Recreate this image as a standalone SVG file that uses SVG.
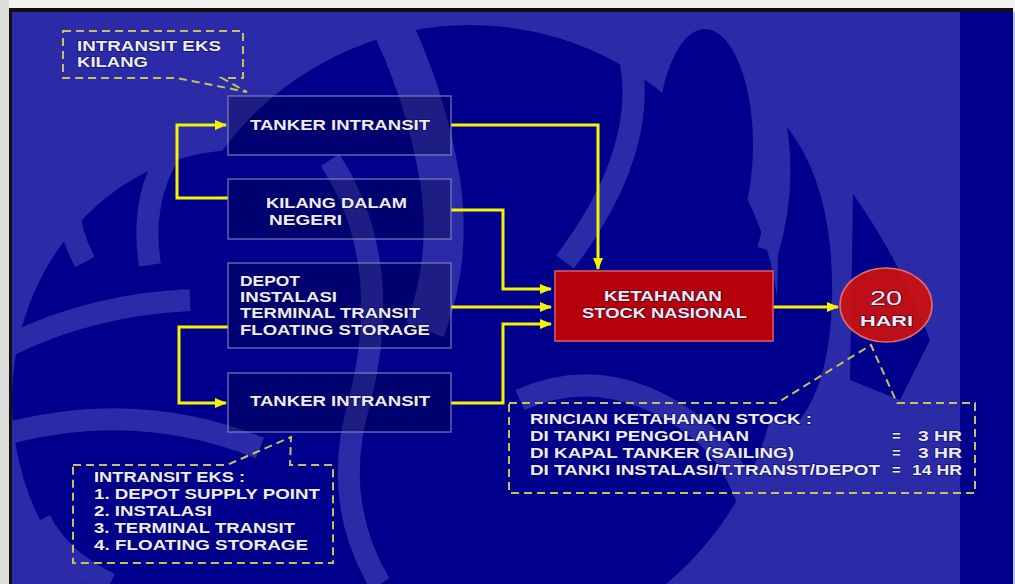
<svg xmlns="http://www.w3.org/2000/svg" width="1015" height="584" viewBox="0 0 1015 584">
<style>
.t{font-family:"Liberation Sans",Arial,sans-serif;font-weight:bold;font-size:15px;fill:#ececf2;stroke:#000035;stroke-width:1.4px;stroke-opacity:0.55;paint-order:stroke}
.box{fill:#000038;fill-opacity:0.32;stroke:#8a8ac4;stroke-opacity:0.7;stroke-width:1.5}
.call{fill:none;stroke:#c4c25a;stroke-width:2;stroke-dasharray:8 5}
.con{fill:none;stroke:#f4f400;stroke-width:3}
.dk{fill:#00008c}
.lb{fill:none;stroke:#2b2ba8;stroke-width:22}
</style>
<defs>
<marker id="ah" markerUnits="userSpaceOnUse" markerWidth="12" markerHeight="10" refX="11" refY="5" orient="auto">
<path d="M0,0 L12,5 L0,10 Z" fill="#f4f400"/>
</marker>
<clipPath id="fr"><rect x="12" y="12" width="1001" height="572"/></clipPath>
</defs>
<g id="frame">
<rect x="0" y="0" width="1015" height="584" fill="#f2f2f2"/>
<rect x="0" y="0" width="9" height="584" fill="#dcdcdc"/>
<rect x="9" y="8" width="1004" height="576" fill="#101010"/>
<rect x="12" y="12" width="1001" height="572" fill="#2b2ba8"/>
<rect x="1013" y="12" width="2" height="572" fill="#c0c0e6"/>
</g>
<g id="watermark" clip-path="url(#fr)">
<ellipse class="dk" cx="470" cy="340" rx="310" ry="315"/>
<ellipse class="dk" cx="240" cy="400" rx="228" ry="250"/>
<ellipse class="dk" cx="705" cy="145" rx="48" ry="116"/>
<path class="dk" d="M770,108 Q835,170 832,300 Q830,380 800,420 L760,420 Q790,300 770,108 Z"/>
<path class="dk" d="M853,194 Q900,260 930,340 L900,400 L850,380 Z"/>
<path class="lb" d="M612,8 Q672,120 565,262"/>
<path class="lb" d="M742,22 Q800,140 768,250"/>
<path class="lb" d="M120,100 Q40,180 85,262"/>
<path class="lb" d="M265,70 Q130,140 150,265"/>
<path class="lb" style="stroke-width:40" d="M385,12 Q425,90 440,180 Q452,260 425,330"/>
<path class="lb" d="M10,345 Q90,305 190,300"/>
<path class="lb" d="M12,432 Q140,400 260,448"/>
<path class="lb" d="M330,160 Q395,260 360,400 Q330,500 380,584"/>
<path class="lb" d="M520,400 Q610,360 700,430 Q760,480 760,584"/>
<path class="lb" d="M840,430 Q860,500 905,584"/>
<path class="lb" d="M40,520 Q60,560 110,584"/>
<path class="dk" d="M560,500 Q600,520 620,584 L540,584 Z"/>
<rect x="960" y="12" width="53" height="572" fill="#00008c"/>
</g>
<g id="connectors">
<path class="con" d="M228,198 H177 V125 H226" marker-end="url(#ah)"/>
<path class="con" d="M228,327 H179 V403 H226" marker-end="url(#ah)"/>
<path class="con" d="M451,125 H598 V269" marker-end="url(#ah)"/>
<path class="con" d="M451,210 H503 V289 H551" marker-end="url(#ah)"/>
<path class="con" d="M451,307 H551" marker-end="url(#ah)"/>
<path class="con" d="M451,403 H503 V324 H551" marker-end="url(#ah)"/>
<path class="con" d="M773,307 H838" marker-end="url(#ah)"/>
</g>
<g id="callout-kilang">
<path class="call" d="M63,31 H243 V78 H222 L247,92 L177,78 H63 Z"/>
<text class="t" x="77" y="51" textLength="144" lengthAdjust="spacingAndGlyphs">INTRANSIT EKS</text>
<text class="t" x="77" y="67" textLength="71" lengthAdjust="spacingAndGlyphs">KILANG</text>
</g>
<g id="tanker1">
<rect class="box" x="228" y="96" width="223" height="59"/>
<text class="t" x="250" y="130" textLength="180" lengthAdjust="spacingAndGlyphs">TANKER INTRANSIT</text>
</g>
<g id="kilang">
<rect class="box" x="228" y="179" width="223" height="60"/>
<text class="t" x="266" y="208" textLength="141" lengthAdjust="spacingAndGlyphs">KILANG DALAM</text>
<text class="t" x="269" y="225" textLength="73" lengthAdjust="spacingAndGlyphs">NEGERI</text>
</g>
<g id="depot">
<rect class="box" x="228" y="263" width="223" height="85"/>
<text class="t" x="240" y="286" textLength="60" lengthAdjust="spacingAndGlyphs">DEPOT</text>
<text class="t" x="240" y="302" textLength="97" lengthAdjust="spacingAndGlyphs">INSTALASI</text>
<text class="t" x="240" y="318" textLength="180" lengthAdjust="spacingAndGlyphs">TERMINAL TRANSIT</text>
<text class="t" x="240" y="335" textLength="190" lengthAdjust="spacingAndGlyphs">FLOATING STORAGE</text>
</g>
<g id="tanker2">
<rect class="box" x="228" y="373" width="223" height="59"/>
<text class="t" x="250" y="406" textLength="180" lengthAdjust="spacingAndGlyphs">TANKER INTRANSIT</text>
</g>
<g id="callout-eks">
<path class="call" d="M73,465 H227 L291,437 L290,465 H333 V563 H73 Z"/>
<text class="t" x="94" y="482" textLength="151" lengthAdjust="spacingAndGlyphs">INTRANSIT EKS :</text>
<text class="t" x="94" y="499" textLength="226" lengthAdjust="spacingAndGlyphs">1. DEPOT SUPPLY POINT</text>
<text class="t" x="94" y="516" textLength="118" lengthAdjust="spacingAndGlyphs">2. INSTALASI</text>
<text class="t" x="94" y="533" textLength="201" lengthAdjust="spacingAndGlyphs">3. TERMINAL TRANSIT</text>
<text class="t" x="94" y="550" textLength="214" lengthAdjust="spacingAndGlyphs">4. FLOATING STORAGE</text>
</g>
<g id="ketahanan">
<rect x="555" y="271" width="218" height="70" fill="#c80000" fill-opacity="0.92" stroke="#d86060" stroke-width="1.5"/>
<text class="t" x="604" y="301" textLength="118" lengthAdjust="spacingAndGlyphs">KETAHANAN</text>
<text class="t" x="582" y="318" textLength="165" lengthAdjust="spacingAndGlyphs">STOCK NASIONAL</text>
</g>
<g id="hari">
<ellipse cx="886" cy="305" rx="46" ry="37" fill="#cc1010" fill-opacity="0.93" stroke="#e07070" stroke-width="1.5"/>
<text class="t" x="870" y="305" textLength="32" lengthAdjust="spacingAndGlyphs" style="font-weight:normal;font-size:21px">20</text>
<text class="t" x="860" y="326" textLength="53" lengthAdjust="spacingAndGlyphs">HARI</text>
</g>
<g id="callout-rincian">
<path class="call" d="M509,403 H777 L871,345 L897,403 H975 V493 H509 Z"/>
<text class="t" x="530" y="424" textLength="282" lengthAdjust="spacingAndGlyphs">RINCIAN KETAHANAN STOCK :</text>
<text class="t" x="530" y="441" textLength="219" lengthAdjust="spacingAndGlyphs">DI TANKI PENGOLAHAN</text>
<text class="t" x="530" y="458" textLength="264" lengthAdjust="spacingAndGlyphs">DI KAPAL TANKER (SAILING)</text>
<text class="t" x="530" y="475" textLength="350" lengthAdjust="spacingAndGlyphs">DI TANKI INSTALASI/T.TRANST/DEPOT</text>
<text class="t" x="892" y="441">=</text>
<text class="t" x="892" y="458">=</text>
<text class="t" x="892" y="475">=</text>
<text class="t" x="918" y="441" textLength="44" lengthAdjust="spacingAndGlyphs">3 HR</text>
<text class="t" x="918" y="458" textLength="44" lengthAdjust="spacingAndGlyphs">3 HR</text>
<text class="t" x="912" y="475" textLength="50" lengthAdjust="spacingAndGlyphs">14 HR</text>
</g>
</svg>
